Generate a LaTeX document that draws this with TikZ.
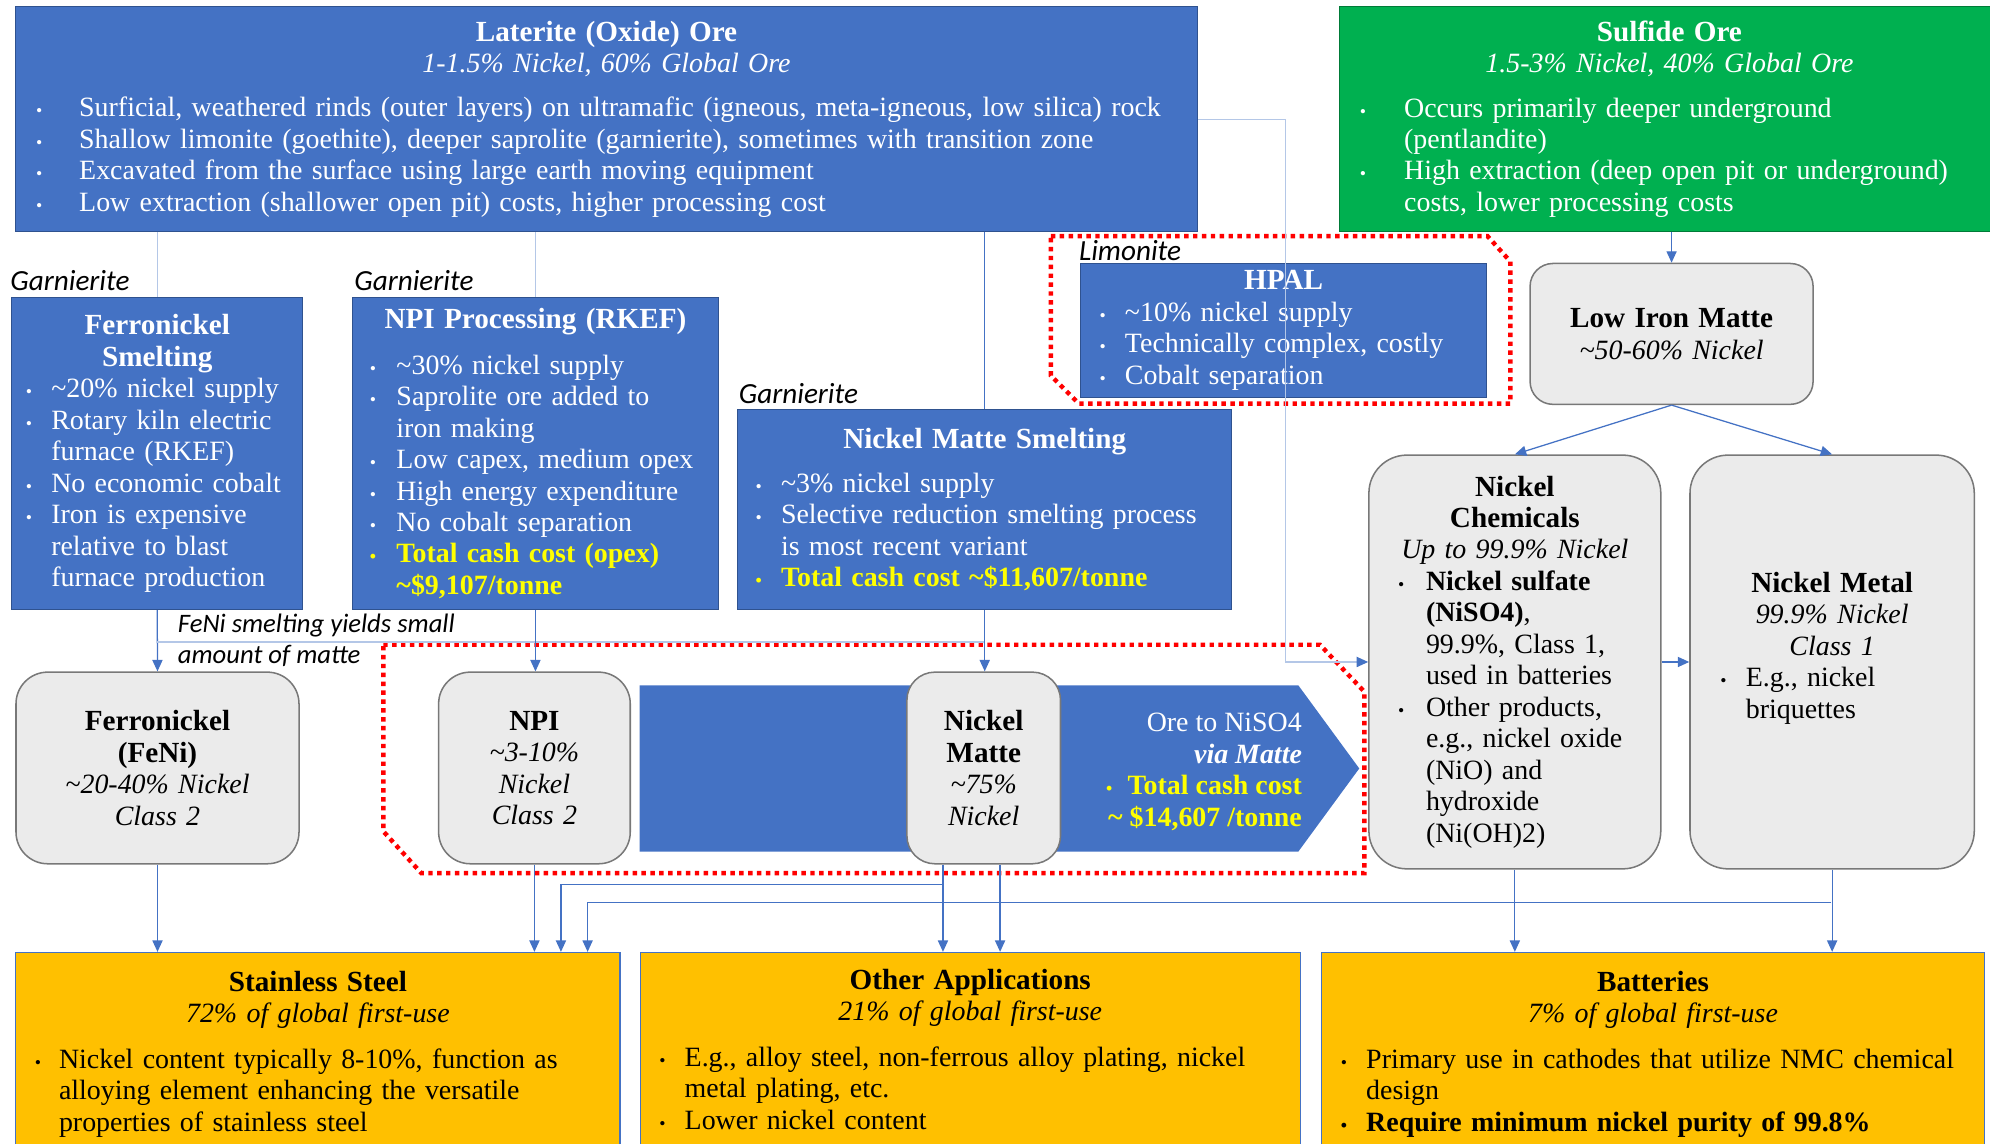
\documentclass[tikz,border=0pt]{standalone}
\usepackage{fontspec}
\setmainfont{Liberation Serif}
\newfontfamily\notefont{Carlito}
\usetikzlibrary{positioning, arrows.meta}
\definecolor{oreblue}{RGB}{68, 114, 196}
\definecolor{oreedge}{RGB}{47, 82, 143}
\definecolor{oregreen}{RGB}{0, 176, 80}
\definecolor{usegold}{RGB}{255, 192, 0}
\definecolor{prodgray}{RGB}{235, 235, 235}
\definecolor{prodedge}{RGB}{120, 120, 120}
\definecolor{flow}{RGB}{68, 114, 196}
\definecolor{flowpale}{RGB}{180, 199, 231}
\definecolor{cashyellow}{RGB}{255, 255, 0}
\definecolor{hotred}{RGB}{255, 0, 0}
\setlength{\parindent}{0pt}
\newcommand{\bodyfont}{\fontsize{22}{24.8}\selectfont}
\newcommand{\headfont}{\fontsize{23}{24.8}\selectfont}
\newcommand{\boxhead}[2]{{\centering\headfont\bfseries #1\par}{\centering\itshape #2\par}}
\newcommand{\bitem}[2][20pt]{\hangindent=#1\hangafter=1\noindent\hbox to #1{{\fontsize{14}{14}\selectfont\textbullet}\hfil}#2\par}

\begin{document}
\begin{tikzpicture}[x=1pt, y=-1pt,
    every node/.style={font=\bodyfont, inner ysep=0pt},
    orebox/.style={draw=oreedge, line width=0.8pt, fill=oreblue, text=white, anchor=north west, align=left},
    prodbox/.style={draw=prodedge, line width=1.2pt, fill=prodgray, anchor=north west, align=center},
    usebox/.style={draw=flow, line width=1pt, fill=usegold, anchor=north west, align=left, inner xsep=15pt},
    tag/.style={font=\notefont\itshape\fontsize{23}{24}\selectfont, anchor=base west, inner sep=0pt},
    smalltag/.style={tag, font=\notefont\itshape\fontsize{21}{24}\selectfont},
    link/.style={flowpale, line width=1pt},
    trunk/.style={flow, line width=1pt},
    feed/.style={flow, line width=1pt, -{Triangle[length=9pt, width=8pt]}},
    hotzone/.style={hotred, line width=3.5pt, dash pattern=on 3.5pt off 3.5pt}]
    \useasboundingbox (0,0) rectangle (1568,901);

    % Minérios
    \node[orebox, inner xsep=16pt, text width=899pt, minimum height=177pt] (lat) at (12,5) {
        \boxhead{Laterite (Oxide) Ore}{1-1.5\% Nickel, 60\% Global Ore}
        \vspace{10pt}
        \bitem[34pt]{Surficial, weathered rinds (outer layers) on ultramafic (igneous, meta-igneous, low silica) rock}
        \bitem[34pt]{Shallow limonite (goethite), deeper saprolite (garnierite), sometimes with transition zone}
        \bitem[34pt]{Excavated from the surface using large earth moving equipment}
        \bitem[34pt]{Low extraction (shallower open pit) costs, higher processing cost}};
    \node[orebox, fill=oregreen, draw=oregreen!70!black, inner xsep=16pt, text width=488pt, minimum height=177pt] (sulf) at (1055,5) {
        \boxhead{Sulfide Ore}{1.5-3\% Nickel, 40\% Global Ore}
        \vspace{10pt}
        \bitem[35pt]{Occurs primarily deeper underground\newline (pentlandite)}
        \bitem[35pt]{High extraction (deep open pit or underground)\newline costs, lower processing costs}};

    % Processos
    \node[tag] (garn1) at (8,229) {Garnierite};
    \node[tag] (garn2) at (279,229) {Garnierite};
    \node[tag] (garn3) at (582,318) {Garnierite};
    \node[tag] (limtag) at (850,205) {Limonite};
    \node[orebox, inner xsep=11pt, text width=207pt, minimum height=246pt] (fns) at (9,234) {
        {\centering\headfont\bfseries Ferronickel\\Smelting\par}
        \bitem[20pt]{\textasciitilde20\% nickel supply}
        \bitem[20pt]{Rotary kiln electric\newline furnace (RKEF)}
        \bitem[20pt]{No economic cobalt}
        \bitem[20pt]{Iron is expensive\newline relative to blast\newline furnace production}};
    \node[orebox, inner xsep=14pt, text width=261pt, minimum height=246pt] (npip) at (277,234) {
        \boxhead{NPI Processing (RKEF)}{}
        \vspace{11pt}
        \bitem[21pt]{\textasciitilde30\% nickel supply}
        \bitem[21pt]{Saprolite ore added to\newline iron making}
        \bitem[21pt]{Low capex, medium opex}
        \bitem[21pt]{High energy expenditure}
        \bitem[21pt]{No cobalt separation}
        {\color{cashyellow}\bfseries\bitem[21pt]{Total cash cost (opex)\newline \textasciitilde\$9,107/tonne}}};
    \node[orebox, inner xsep=14pt, text width=361pt, minimum height=158pt] (nms) at (581,322) {
        \boxhead{Nickel Matte Smelting}{}
        \vspace{10pt}
        \bitem[20pt]{\textasciitilde3\% nickel supply}
        \bitem[20pt]{Selective reduction smelting process\newline is most recent variant}
        {\color{cashyellow}\bfseries\bitem[20pt]{Total cash cost \textasciitilde\$11,607/tonne}}};
    \node[orebox, inner xsep=15pt, text width=290pt, minimum height=106pt] (hpal) at (851,207) {
        \boxhead{HPAL}{}
        \bitem[20pt]{\textasciitilde10\% nickel supply}
        \bitem[20pt]{Technically complex, costly}
        \bitem[20pt]{Cobalt separation}};

    % Produtos
    \node[prodbox, rounded corners=18pt, inner xsep=8pt, text width=207pt, minimum height=111pt] (lim) at (1205,207) {
        {\headfont\bfseries Low Iron Matte\par}{\itshape \textasciitilde50-60\% Nickel\par}};
    \node[prodbox, rounded corners=30pt, inner xsep=23pt, text width=184pt, minimum height=326pt, align=left] (chem) at (1078,358) {
        {\centering\headfont\bfseries Nickel\\Chemicals\par}
        {\centering\itshape Up to 99.9\% Nickel\par}
        \bitem[22pt]{\textbf{Nickel sulfate\newline (NiSO4)},\newline 99.9\%, Class 1,\newline used in batteries}
        \bitem[22pt]{Other products,\newline e.g., nickel oxide\newline (NiO) and\newline hydroxide\newline (Ni(OH)2)}};
    \node[prodbox, rounded corners=30pt, inner xsep=24pt, text width=176pt, minimum height=326pt, align=left] (metal) at (1331,358) {
        {\centering\headfont\bfseries Nickel Metal\par}
        {\centering\itshape 99.9\% Nickel\\Class 1\par}
        \bitem[20pt]{E.g., nickel\newline briquettes}
        \rule{0pt}{21pt}};
    \node[prodbox, rounded corners=25pt, inner xsep=8pt, text width=207pt, minimum height=151pt] (feni) at (12,529) {
        {\headfont\bfseries Ferronickel\\(FeNi)\par}{\itshape \textasciitilde20-40\% Nickel\\Class 2\par}};
    \node[prodbox, rounded corners=25pt, inner xsep=6pt, text width=139pt, minimum height=151pt] (npi) at (345,529) {
        {\headfont\bfseries NPI\par}{\itshape \textasciitilde3-10\%\\Nickel\\Class 2\par}};
    \fill[oreblue] (504,540) -- (1023,540) -- (1071,605.5) -- (1023,671) -- (504,671) -- cycle;
    \node[prodbox, rounded corners=22pt, inner xsep=4pt, text width=113pt, minimum height=151pt] (matte) at (714,529) {
        {\headfont\bfseries Nickel\\Matte\par}{\itshape \textasciitilde75\%\\Nickel\par}};
    \node[anchor=north east, align=right, text=white, inner sep=0pt] (viamatte) at (1026,562) {
        Ore to NiSO4\\{\bfseries\itshape via Matte}\\{\color{cashyellow}\bfseries{\fontsize{14}{14}\selectfont\textbullet}\hspace{12pt}Total cash cost}\\{\color{cashyellow}\bfseries\textasciitilde\ \$14,607 /tonne}};

    % Usos finais
    \node[usebox, text width=446pt, minimum height=160pt] (ss) at (12,750) {
        \boxhead{Stainless Steel}{72\% of global first-use}
        \vspace{11pt}
        \bitem[19pt]{Nickel content typically 8-10\%, function as\newline alloying element enhancing the versatile\newline properties of stainless steel}};
    \node[usebox, text width=490pt, minimum height=160pt] (oth) at (504,750) {
        \boxhead{Other Applications}{21\% of global first-use}
        \vspace{11pt}
        \bitem[20pt]{E.g., alloy steel, non-ferrous alloy plating, nickel\newline metal plating, etc.}
        \bitem[20pt]{Lower nickel content\strut}};
    \node[usebox, text width=492pt, minimum height=160pt] (bat) at (1041,750) {
        \boxhead{Batteries}{7\% of global first-use}
        \vspace{11pt}
        \bitem[20pt]{Primary use in cathodes that utilize NMC chemical\newline design}
        {\bfseries\bitem[20pt]{Require minimum nickel purity of 99.8\%}}};

    % Zonas destacadas
    \draw[hotzone] (828,186) -- (1172,186) -- (1190,206) -- (1190,318) -- (850,318) -- (828,296) -- cycle;
    \draw[hotzone] (302,508) -- (1040,508) -- (1075,545) -- (1075,688) -- (332,688) -- (302,655) -- cycle;

    % Setas: minério -> processo
    \draw[link] (fns.north |- lat.south) -- (fns.north);
    \draw[link] (npip.north |- lat.south) -- (npip.north);
    \draw[trunk] (nms.north |- lat.south) -- (nms.north);
    \draw[link, -{Triangle[length=9pt, width=8pt, color=flow]}] (lat.east) -- ++(69,0) |- (chem.west);
    \draw[feed] (sulf.south -| lim.north) -- (lim.north);

    % Setas: processo -> produto
    \draw[feed] (fns.south) -- (feni.north);
    \path (fns.south) ++(0,25) coordinate (fenisplit);
    \draw[link] (fenisplit) -- (fenisplit -| nms.south);
    \node[smalltag] (fenitag1) at (140,498) {FeNi smelting yields small};
    \node[smalltag] (fenitag2) at (140,523) {amount of matte};
    \draw[feed] (npip.south) -- (npip.south |- npi.north);
    \draw[feed] (nms.south) -- (nms.south |- matte.north);
    \draw[feed] (lim.south) -- (chem.north);
    \draw[feed] (lim.south) -- (metal.north);
    \draw[feed] (chem.east) -- (metal.west);

    % Setas: produto -> uso final
    \coordinate (jmatte) at (743,697);
    \coordinate (jmetal) at (1443,711);
    \coordinate (dropA) at (442,0);
    \coordinate (dropB) at (463,0);
    \coordinate (dropC) at (788,0);
    \draw[feed] (feni.south) -- (feni.south |- ss.north);
    \draw[feed] (npi.south) -- (npi.south |- ss.north);
    \draw[feed] (matte.south -| jmatte) -- (jmatte |- oth.north);
    \draw[feed] (jmatte) -| (dropA |- ss.north);
    \draw[feed] (matte.south -| dropC) -- (dropC |- oth.north);
    \draw[feed] (chem.south) -- (chem.south |- bat.north);
    \draw[feed] (metal.south) -- (metal.south |- bat.north);
    \draw[feed] (jmetal) -| (dropB |- ss.north);
\end{tikzpicture}
\end{document}
